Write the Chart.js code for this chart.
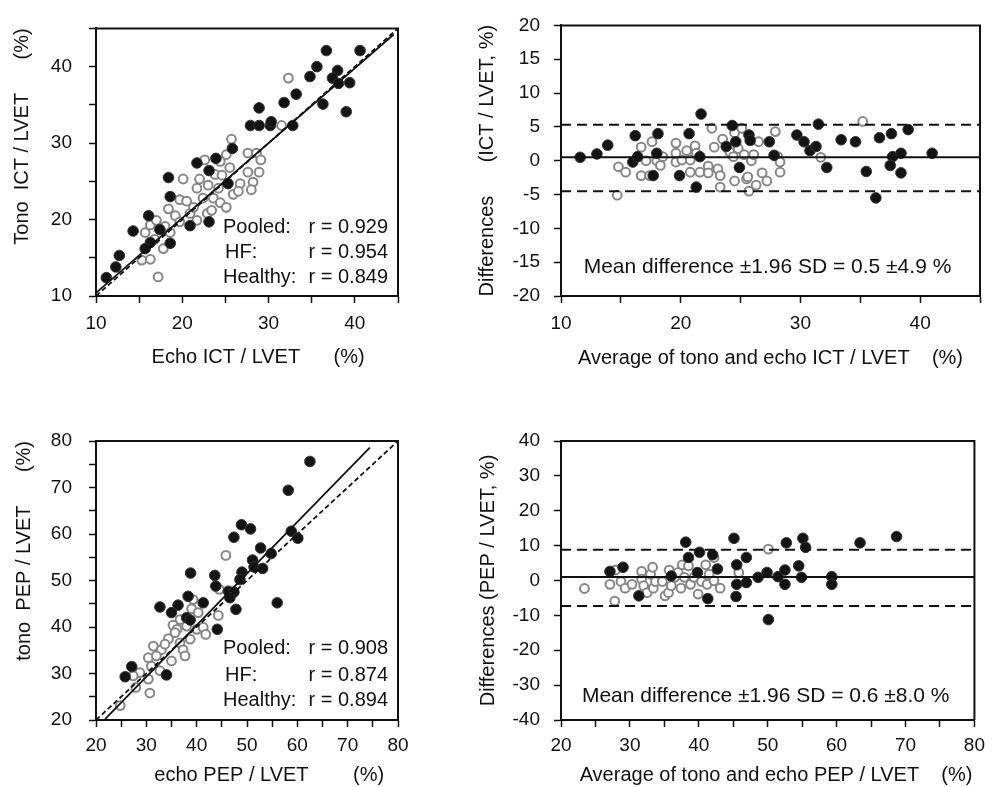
<!DOCTYPE html>
<html><head><meta charset="utf-8">
<script src="https://cdn.jsdelivr.net/npm/chart.js@4.4.1/dist/chart.umd.min.js"></script>
<style>
html,body{margin:0;padding:0;background:#fff;width:992px;height:787px;overflow:hidden}
canvas{position:absolute;display:block}
</style></head><body>
<canvas id="c1" width="460" height="393" style="left:0;top:0"></canvas>
<canvas id="c2" width="532" height="393" style="left:460px;top:0"></canvas>
<canvas id="c3" width="460" height="394" style="left:0;top:393px"></canvas>
<canvas id="c4" width="532" height="394" style="left:460px;top:393px"></canvas>
<script>
// ---------- Panel 1: Tono vs Echo ICT/LVET (%) ----------
const ictHfEcho = [36.7,40.6,35.6,34.8,38.0,37.4,38.1,39.4,33.2,31.8,28.9,36.3,39.0,27.9,28.9,30.2,30.3,32.8,25.8,21.7,23.9,23.1,18.4,25.3,18.6,16.1,14.3,17.4,20.9,23.1,16.3,18.6,15.7,12.7,12.3,11.2];
const ictHfTono = [42.1,42.1,40.0,38.7,39.5,38.5,37.8,37.9,36.4,35.3,34.6,35.1,34.1,32.3,32.3,32.3,32.8,32.3,29.3,27.4,28.0,26.4,25.5,24.7,23.0,20.5,18.5,18.7,19.2,19.7,17.0,16.9,16.2,15.3,13.8,12.4];
const ictHealthyEcho = [32.3,31.5,25.7,25.1,27.6,28.6,29.1,24.4,22.6,25.5,27.6,28.9,20.1,22.0,23.8,24.6,26.7,28.2,28.0,25.9,21.7,23.0,24.2,19.7,20.5,22.4,23.6,24.4,25.1,18.4,19.2,20.9,22.9,19.7,21.7,18.0,16.3,15.7,18.6,16.8,17.8,15.3,16.3,17.2,21.3,17.0,23.4,26.5];
const ictHealthyTono = [38.5,32.3,30.5,28.5,28.7,28.7,27.8,27.6,27.8,26.8,26.2,26.2,25.3,25.3,25.9,25.8,24.7,24.9,23.9,23.3,24.1,24.5,24.1,22.6,22.4,22.8,22.8,22.2,21.6,21.4,20.5,20.8,20.8,19.7,19.9,19.1,19.3,18.3,18.3,17.4,16.2,14.7,14.8,12.5,21.6,19.9,21.2,23.7];
const ictIdentity = [[10,10],[45,45]];
const ictFit = [[10,10.4],[44.5,44.2]];
const ictStatLabels = ['Pooled:', 'HF:', 'Healthy:'];
const ictStatValues = ['r = 0.929', 'r = 0.954', 'r = 0.849'];
const ictAxisLabels = [10,20,30,40];

// ---------- Panel 2: Bland-Altman ICT/LVET ----------
const ictBaHfAvg = [11.6,13.0,13.9,16.2,16.0,16.4,18.1,18.0,17.7,20.7,21.7,21.6,19.9,21.3,23.8,24.3,24.6,24.9,25.7,25.8,27.4,27.8,29.7,30.3,30.8,31.3,31.5,32.2,33.4,34.6,35.5,36.3,36.6,37.6,37.7,37.5,38.4,38.4,39.0,41.0];
const ictBaHfDiff = [0.5,1.0,2.3,3.7,-0.2,0.6,4.0,1.1,-2.2,4.0,6.9,0.6,-2.2,-3.9,2.1,5.2,2.8,-1.0,3.8,3.0,2.8,0.8,3.8,2.8,1.5,2.1,5.4,-1.0,3.1,2.8,-1.6,-5.5,3.4,4.0,0.6,-0.7,1.1,-1.8,4.6,1.1];
const ictBaHealthyAvg = [14.7,14.8,15.4,16.7,16.7,17.4,17.6,17.1,18.0,18.3,18.5,19.6,19.6,19.6,20.1,20.5,20.8,21.2,21.3,20.8,21.6,22.3,22.3,22.6,22.8,23.1,23.3,23.3,23.5,24.1,24.4,24.5,24.5,24.8,25.1,25.3,25.5,25.6,25.7,25.9,26.1,26.3,26.5,26.8,27.2,27.9,28.1,28.3,28.3,31.7,35.2];
const ictBaHealthyDiff = [-5.1,-0.9,-1.7,2.0,-2.2,-2.2,2.8,0.0,0.0,-0.7,0.6,2.6,1.1,-0.2,0.1,1.5,0.1,2.2,1.1,-1.7,-1.7,-0.8,-1.8,4.8,2.0,-1.2,-2.2,-3.9,3.2,1.3,0.6,-3.0,4.1,1.8,4.8,0.9,-2.7,-2.4,-4.5,0.0,0.9,-3.6,2.8,-1.8,-3.0,4.3,0.6,-0.2,-1.7,0.5,5.8];
const ictBias = [0.5, 5.3, -4.5];   // mean, upper limit, lower limit
const ictBaNote = 'Mean difference \u00b11.96 SD = 0.5 \u00b14.9 %';

// ---------- Panel 3: tono vs echo PEP/LVET (%) ----------
const pepHfEcho = [62.5,58.2,58.8,60.1,48.9,50.7,47.4,52.7,54.8,51.1,51.4,53.1,49.0,48.6,43.6,43.8,38.8,46.3,47.4,46.6,47.8,56.0,32.7,36.3,35.0,38.3,41.3,38.0,38.7,44.1,27.1,25.8,34.0];
const pepHfTono = [75.6,69.4,60.6,59.1,62.0,61.1,59.3,57.0,55.8,54.4,52.9,52.6,51.8,50.2,51.1,48.8,51.6,47.7,47.5,46.3,43.8,45.2,44.3,44.7,43.1,46.6,45.2,42.0,41.5,39.5,31.5,29.3,29.7];
const pepHealthyEcho = [45.8,44.5,39.3,44.3,39.0,40.3,36.7,35.3,36.1,38.0,40.0,41.3,41.8,34.4,38.7,36.7,31.4,33.0,37.3,35.0,30.4,32.0,37.7,31.0,32.7,28.7,27.4,30.4,27.9,30.7,24.8,33.7,35.7];
const pepHealthyTono = [55.4,48.1,45.9,42.5,43.9,43.1,41.6,40.4,39.5,40.2,39.5,39.9,38.4,37.5,37.4,36.6,35.9,35.1,35.1,32.7,33.4,33.8,33.8,31.6,30.6,30.2,29.5,28.8,27.0,25.8,23.1,36.3,38.8];
const pepIdentity = [[20,20],[80,80]];
const pepFit = [[21.8,20.2],[74.4,78.6]];
const pepStatLabels = ['Pooled:', 'HF:', 'Healthy:'];
const pepStatValues = ['r = 0.908', 'r = 0.874', 'r = 0.894'];
const pepAxisLabels = [20,30,40,50,60,70,80];

// ---------- Panel 4: Bland-Altman PEP/LVET ----------
const pepBaHfAvg = [38.1,38.5,40.1,39.8,41.3,42.0,42.7,27.1,29.0,31.3,45.1,45.5,45.5,45.4,46.9,46.9,48.6,49.9,50.1,51.5,52.5,52.5,52.7,54.5,54.9,55.1,55.5,59.3,59.3,63.4,68.7,36.0];
const pepBaHfDiff = [11.0,6.6,8.1,2.3,-5.2,7.4,3.3,2.6,3.8,-4.4,12.1,4.5,-1.1,-4.6,6.6,-0.6,0.9,2.3,-11.2,1.1,3.0,-1.1,10.8,4.2,0.9,12.1,9.5,1.1,-1.1,10.8,12.6,1.3];
const pepBaHealthyAvg = [23.4,27.1,27.9,27.8,28.7,29.3,30.3,31.7,31.7,32.0,32.5,33.0,33.3,33.4,33.7,34.7,35.1,35.6,35.7,36.0,36.5,37.0,37.4,37.6,37.9,38.5,38.8,39.3,39.9,40.4,41.0,41.2,41.5,42.2,42.2,43.1,45.8,50.1];
const pepBaHealthyDiff = [-2.3,-1.1,3.0,-5.9,-0.3,-2.2,-1.1,2.6,0.4,-1.5,-3.5,1.8,3.8,-2.2,-0.3,-0.3,-4.4,-3.5,3.0,-1.5,0.9,2.3,-2.2,4.5,0.9,4.2,-1.1,0.9,-3.9,-0.3,4.5,-1.1,1.8,6.6,-0.1,-2.2,2.3,9.0];
const pepBias = [1.0, 8.8, -7.3];
const pepBaNote = 'Mean difference \u00b11.96 SD = 0.6 \u00b18.0 %';

// ---------- helpers ----------
const FONT = '"Liberation Sans", Arial, Helvetica, sans-serif';
const INK = '#111';
const zip = (xs, ys) => xs.map((x, i) => ({x, y: ys[i]}));
const pts = pairs => pairs.map(p => ({x: p[0], y: p[1]}));

const frameNotes = {
  id: 'frameNotes',
  afterDraw(chart, args, opts) {
    const {ctx, chartArea: a} = chart;
    ctx.save();
    ctx.strokeStyle = INK; ctx.lineWidth = 2;
    ctx.beginPath();
    ctx.moveTo(a.left, a.top); ctx.lineTo(a.right, a.top); ctx.lineTo(a.right, a.bottom);
    ctx.stroke();
    ctx.fillStyle = INK;
    ctx.textBaseline = 'middle';
    (opts.items || []).forEach(n => {
      ctx.font = n.size + 'px ' + FONT;
      ctx.textAlign = n.align;
      const x = n.anchor === 'center' ? (a.left + a.right) / 2 + n.dx : a.right + n.dx;
      ctx.fillText(n.text, x, a.bottom + n.dy);
    });
    ctx.restore();
  }
};

function hfSet(data) {
  return {data, showLine: false, pointRadius: 5.3, pointBackgroundColor: '#141414', pointBorderColor: '#333', pointBorderWidth: 1, clip: false, order: 2};
}
function healthySet(data) {
  return {data, showLine: false, pointRadius: 4.4, pointBackgroundColor: '#fff', pointBorderColor: '#868686', pointBorderWidth: 2, clip: false, order: 3};
}
function lineSet(data, dash, width) {
  return {data, showLine: true, pointRadius: 0, borderColor: INK, borderWidth: width, borderDash: dash, fill: false, order: 1};
}

function axis(opts) {
  const labelSet = opts.labels;
  return {
    type: 'linear', position: opts.position, min: opts.min, max: opts.max,
    afterFit: s => { if (opts.position === 'left') s.width = opts.size; else s.height = opts.size; },
    ticks: {
      stepSize: opts.step, autoSkip: false, maxRotation: 0, padding: opts.pad,
      color: INK, font: {family: FONT, size: 19},
      callback: v => (labelSet ? (labelSet.includes(v) ? String(v) : '') : String(v))
    },
    grid: {display: true, drawOnChartArea: false, drawTicks: true, tickLength: 7, tickColor: INK, tickWidth: 1.5},
    border: {display: true, color: INK, width: 2},
    title: {display: true, text: opts.title, color: INK, align: opts.align || 'center',
      font: {family: FONT, size: 20}, padding: opts.tpad}
  };
}

function makeChart(id, datasets, padding, xA, yA, notes) {
  return new Chart(document.getElementById(id), {
    type: 'scatter',
    data: {datasets},
    options: {
      responsive: false, animation: false, devicePixelRatio: 1, events: [],
      layout: {padding},
      plugins: {legend: {display: false}, tooltip: {enabled: false}, frameNotes: {items: notes}},
      scales: {x: axis(xA), y: axis(yA)}
    },
    plugins: [frameNotes]
  });
}

const statNotes = (labels, values, dys) => labels.flatMap((t, i) => [
  {text: t, align: 'left', anchor: 'right', dx: i === 1 ? -173 : -175, dy: dys[i], size: 20},
  {text: values[i], align: 'right', anchor: 'right', dx: -10, dy: dys[i], size: 20}
]);

// Panel 1
makeChart('c1', [
  lineSet(pts(ictFit), [], 1.8),
  lineSet(pts(ictIdentity), [5, 3], 1.8),
  hfSet(zip(ictHfEcho, ictHfTono)),
  healthySet(zip(ictHealthyEcho, ictHealthyTono))
], {left: 0, top: 15, right: 62, bottom: 0},
  {position: 'bottom', min: 10, max: 45, step: 5, labels: ictAxisLabels, size: 97, pad: 9,
   title: '    Echo ICT / LVET      (%)', tpad: {top: 0, bottom: 24}},
  {position: 'left', min: 10, max: 45, step: 5, labels: ictAxisLabels, size: 96, pad: 17,
   title: 'Tono  ICT / LVET      (%)', align: 'end', tpad: {top: 10, bottom: 0}},
  statNotes(ictStatLabels, ictStatValues, [-69, -44, -19]));

// Panel 2
const ictSpan = [10, 45];
makeChart('c2', [
  lineSet(pts(ictSpan.map(x => [x, ictBias[0]])), [], 2),
  lineSet(pts(ictSpan.map(x => [x, ictBias[1]])), [10, 6], 2),
  lineSet(pts(ictSpan.map(x => [x, ictBias[2]])), [10, 6], 2),
  hfSet(zip(ictBaHfAvg, ictBaHfDiff)),
  healthySet(zip(ictBaHealthyAvg, ictBaHealthyDiff))
], {left: 0, top: 14, right: 12, bottom: 0},
  {position: 'bottom', min: 10, max: 45, step: 5, labels: ictAxisLabels, size: 97, pad: 9,
   title: 'Average of tono and echo ICT / LVET    (%)', tpad: {top: 0, bottom: 23}},
  {position: 'left', min: -20, max: 20, step: 5, labels: null, size: 101, pad: 14,
   title: 'Differences      (ICT / LVET, %)', tpad: {top: 15, bottom: 0}},
  [{text: ictBaNote, align: 'center', anchor: 'center', dx: -3, dy: -29, size: 21}]);

// Panel 3
makeChart('c3', [
  lineSet(pts(pepFit), [], 1.8),
  lineSet(pts(pepIdentity), [5, 3], 1.8),
  hfSet(zip(pepHfEcho, pepHfTono)),
  healthySet(zip(pepHealthyEcho, pepHealthyTono))
], {left: 0, top: 48, right: 62, bottom: 0},
  {position: 'bottom', min: 20, max: 80, step: 5, labels: pepAxisLabels, size: 67, pad: 7,
   title: '        echo PEP / LVET        (%)', tpad: {top: 0, bottom: 0}},
  {position: 'left', min: 20, max: 80, step: 5, labels: pepAxisLabels, size: 96, pad: 17,
   title: 'tono  PEP / LVET      (%)', align: 'end', tpad: {top: 12, bottom: 0}},
  statNotes(pepStatLabels, pepStatValues, [-72, -45, -20]));

// Panel 4
const pepSpan = [20, 80];
makeChart('c4', [
  lineSet(pts(pepSpan.map(x => [x, pepBias[0]])), [], 2),
  lineSet(pts(pepSpan.map(x => [x, pepBias[1]])), [10, 6], 2),
  lineSet(pts(pepSpan.map(x => [x, pepBias[2]])), [10, 6], 2),
  hfSet(zip(pepBaHfAvg, pepBaHfDiff)),
  healthySet(zip(pepBaHealthyAvg, pepBaHealthyDiff))
], {left: 0, top: 48, right: 12, bottom: 0},
  {position: 'bottom', min: 20, max: 80, step: 5, labels: pepAxisLabels, size: 67, pad: 7,
   title: '   Average of tono and echo PEP / LVET    (%)', tpad: {top: 0, bottom: 0}},
  {position: 'left', min: -40, max: 40, step: 10, labels: null, size: 101, pad: 14,
   title: 'Differences (PEP / LVET, %)', tpad: {top: 16, bottom: 0}},
  [{text: pepBaNote, align: 'center', anchor: 'center', dx: -2, dy: -24, size: 21}]);
</script>
</body></html>
